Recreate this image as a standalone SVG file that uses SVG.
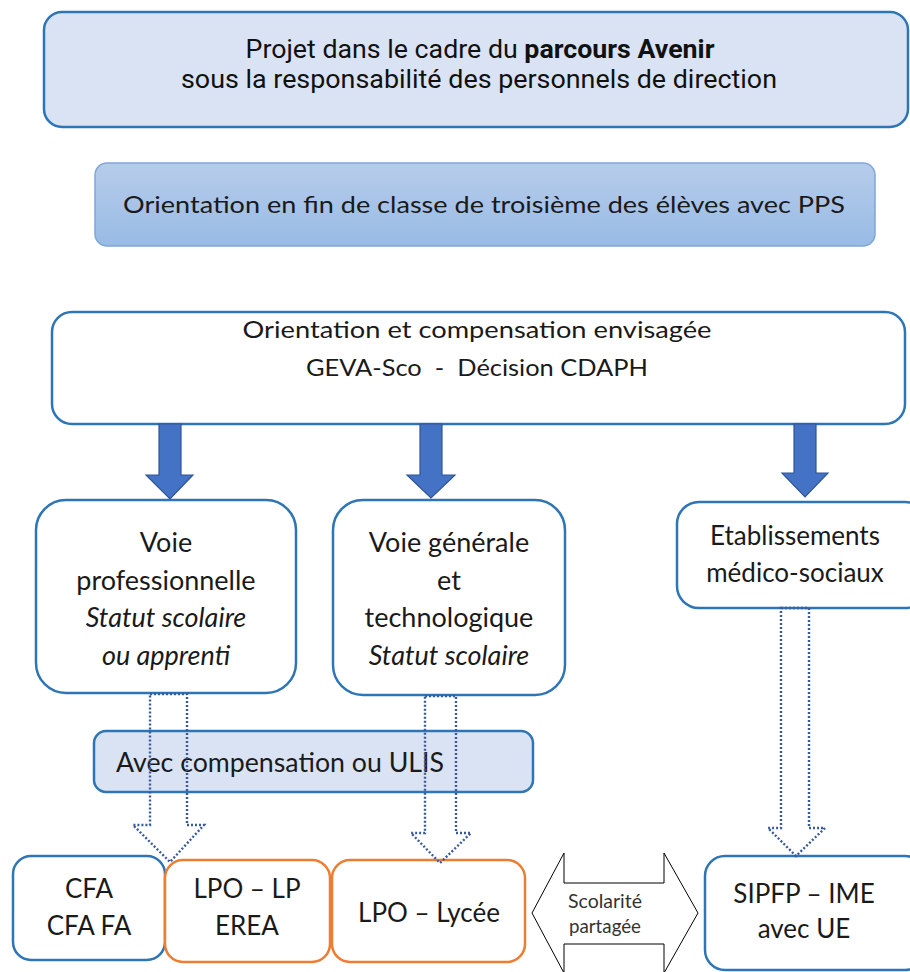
<svg xmlns="http://www.w3.org/2000/svg" width="910" height="972" viewBox="0 0 910 972">
<defs>
<linearGradient id="g2" x1="0" y1="0" x2="0" y2="1">
<stop offset="0" stop-color="#b7cceb"/>
<stop offset="1" stop-color="#98bbe4"/>
</linearGradient>
<style>
.t{font-family:Lato,"Open Sans",sans-serif;fill:#1a1a1a;text-anchor:middle}
.r{font-family:Roboto,"Liberation Sans",sans-serif;fill:#111;text-anchor:middle;font-size:25px}
.bb{fill:#fff;stroke:#2e75b6;stroke-width:2.5}
.ob{fill:#fff;stroke:#ed7d31;stroke-width:2.5}
.lb{fill:#dae3f3;stroke:#2e75b6;stroke-width:2.5}
.thick{fill:#4472c4;stroke:#2f5597;stroke-width:1.2}
.dot{fill:none;stroke:#3a5a9a;stroke-width:2.4;stroke-dasharray:2 2}
.it{font-style:italic}
</style>
</defs>

<g id="n-projet">
<rect x="44" y="12" width="864" height="115" rx="18" class="lb"/>
<text class="r" x="480" y="58" textLength="469" lengthAdjust="spacingAndGlyphs">Projet dans le cadre du <tspan font-weight="bold">parcours Avenir</tspan></text>
<text class="r" x="479" y="88" textLength="596" lengthAdjust="spacingAndGlyphs">sous la responsabilité des personnels de direction</text>
</g>

<g id="n-orientation">
<rect x="95" y="163" width="780" height="83" rx="12" fill="url(#g2)" stroke="#7fa6d9" stroke-width="1.5"/>
<text class="t" x="484" y="213" font-size="24" textLength="722" lengthAdjust="spacingAndGlyphs">Orientation en fin de classe de troisième des élèves avec PPS</text>
</g>

<g id="n-compensation">
<rect x="52" y="312" width="853" height="112" rx="20" class="bb"/>
<text class="t" x="477" y="338" font-size="24" textLength="469" lengthAdjust="spacingAndGlyphs">Orientation et compensation envisagée</text>
<text class="t" x="477" y="376" font-size="24" textLength="342" lengthAdjust="spacingAndGlyphs" xml:space="preserve">GEVA-Sco  -  Décision CDAPH</text>
</g>

<g id="n-voie-pro">
<rect x="36" y="500" width="260" height="193" rx="30" class="bb"/>
<text class="t" x="166" y="552" font-size="27">Voie</text>
<text class="t" x="166" y="590" font-size="27">professionnelle</text>
<text class="t it" x="166" y="627" font-size="27">Statut scolaire</text>
<text class="t it" x="166" y="665" font-size="27">ou apprenti</text>
</g>

<g id="n-voie-gt">
<rect x="333" y="500" width="232" height="195" rx="30" class="bb"/>
<text class="t" x="449" y="552" font-size="27">Voie générale</text>
<text class="t" x="449" y="590" font-size="27">et</text>
<text class="t" x="449" y="627" font-size="27">technologique</text>
<text class="t it" x="449" y="665" font-size="27">Statut scolaire</text>
</g>

<g id="n-ets">
<rect x="677" y="502" width="250" height="106" rx="22" class="bb"/>
<text class="t" x="795" y="545" font-size="26">Etablissements</text>
<text class="t" x="795" y="582" font-size="26">médico-sociaux</text>
</g>

<g id="n-ulis">
<rect x="94" y="731" width="439" height="61" rx="12" class="lb"/>
<text class="t" x="116" y="772" font-size="26" style="text-anchor:start" textLength="328" lengthAdjust="spacingAndGlyphs">Avec compensation ou ULIS</text>
</g>

<g id="n-cfa">
<rect x="13" y="856" width="152" height="104" rx="18" class="bb"/>
<text class="t" x="89" y="898" font-size="26">CFA</text>
<text class="t" x="89" y="935" font-size="26">CFA FA</text>
</g>

<g id="n-lpo-lp">
<rect x="165" y="860" width="165" height="102" rx="18" class="ob"/>
<text class="t" x="247" y="898" font-size="26">LPO – LP</text>
<text class="t" x="247" y="935" font-size="26">EREA</text>
</g>

<g id="n-lpo-lycee">
<rect x="332" y="860" width="193" height="102" rx="18" class="ob"/>
<text class="t" x="429" y="922" font-size="26">LPO – Lycée</text>
</g>

<g id="n-sipfp">
<rect x="705" y="856" width="220" height="114" rx="20" class="bb"/>
<text class="t" x="804" y="903" font-size="26">SIPFP – IME</text>
<text class="t" x="804" y="938" font-size="26">avec UE</text>
</g>

<g id="n-scolarite">
<polygon points="532,913 564,853 564,883 664,883 664,853 698,913 664,973 664,944 564,944 564,973" fill="#fff" stroke="#000" stroke-width="1"/>
<text class="t" x="605" y="908" font-size="19" fill="#333" style="fill:#333" textLength="74" lengthAdjust="spacingAndGlyphs">Scolarité</text>
<text class="t" x="605" y="933" font-size="19" style="fill:#333" textLength="72" lengthAdjust="spacingAndGlyphs">partagée</text>
</g>

<g id="connectors">
<polygon class="thick" points="159,424 181,424 181,475 193,475 170,499 146,475 159,475"/>
<polygon class="thick" points="420,424 442,424 442,475 455,475 431,498 407,475 420,475"/>
<polygon class="thick" points="794,424 816,424 816,473 828,473 805,497 782,473 794,473"/>
<polygon class="dot" points="150,694 187,694 187,825 204,825 170,862 133,825 150,825"/>
<polygon class="dot" points="425,696 456,696 456,833 471,833 440,863 411,833 425,833"/>
<polygon class="dot" points="781,608 809,608 809,828 825,828 796,856 768,828 781,828"/>
</g>
</svg>
